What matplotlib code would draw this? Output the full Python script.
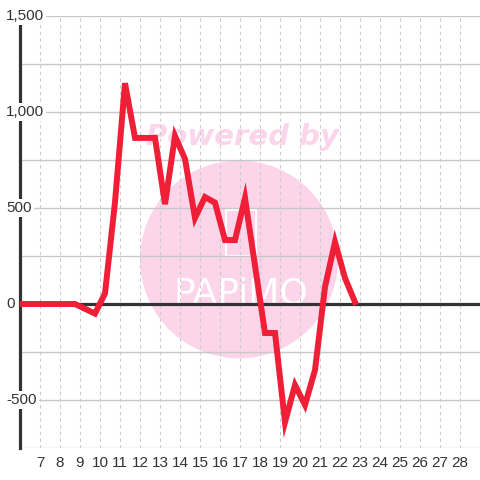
import matplotlib
matplotlib.use('Agg')
import matplotlib.pyplot as plt
import matplotlib.patches as patches

# values (x in half steps, offset .25)
xs = [5.75, 6.25, 6.75, 7.25, 7.75, 8.25, 8.75, 9.75, 10.25, 10.75, 11.25,
      11.75, 12.25, 12.75, 13.25, 13.75, 14.25, 14.75, 15.25, 15.75, 16.25,
      16.75, 17.25, 17.75, 18.25, 18.75, 19.25, 19.75, 20.25, 20.75, 21.25,
      21.75, 22.25, 22.75]
ys = [0, 0, 0, 0, 0, 0, 0, -50, 55, 530, 1150,
      865, 865, 865, 520, 875, 755, 448, 557, 528, 333,
      333, 552, 200, -151, -151, -615, -422, -526, -344, 89,
      323, 135, 10]

x_ticks = list(range(7, 29))
y_grid = [-750, -500, -250, 0, 250, 500, 750, 1000, 1250, 1500]
y_labels = [-500, 0, 500, 1000, 1500]

red = '#ee1f36'
dark = '#333333'
grey = '#c8c8c8'
pink = '#fcd5ea'

fig = plt.figure(figsize=(4.8, 4.8), dpi=100)
ax = fig.add_axes([20/480, 32/480, 460/480, 432/480])
ax.set_xlim(6, 29)
ax.set_ylim(-750, 1500)
for s in ax.spines.values():
    s.set_visible(False)
ax.set_yticks([])
ax.set_xticks(x_ticks)
ax.set_xticklabels([str(t) for t in x_ticks], fontsize=11,
                   family='Liberation Sans', color=dark)
ax.tick_params(axis='x', length=0, pad=6)

# watermark
ax.add_patch(patches.Ellipse((16.95, 232), 9.9, 1031, color=pink, zorder=0.5, lw=0))
ax.text(17.1, 828, 'Powered by', ha='center', va='baseline', fontsize=21,
        fontweight='bold', style='italic', color=pink, zorder=0.6)
ax.text(17.05, 5, 'PAPiMO', ha='center', va='baseline', fontsize=26,
        color='white', zorder=0.6, family='DejaVu Sans')
ax.add_patch(patches.FancyBboxPatch((16.3, 250), 1.5, 240,
             boxstyle='round,pad=0,rounding_size=0.3', fill=False,
             edgecolor='white', lw=1.5, zorder=0.6))

# grid
for g in y_grid:
    ax.axhline(g, color=grey, lw=1, zorder=1)
for t in x_ticks:
    ax.axvline(t, color='#cccccc', lw=0.8, ls=(0, (3, 3)), zorder=1)

ax.axhline(0, color=dark, lw=2.3, zorder=2)
ax.axvline(6, color=dark, lw=2.3, zorder=2, clip_on=False)

ax.plot(xs, ys, color=red, lw=4.3, solid_joinstyle='miter', zorder=3)

tr = ax.get_yaxis_transform()
for v in y_labels:
    ax.text(-14/460, v, f'{v:,}', transform=tr, ha='left', va='center',
            fontsize=11, family='Liberation Sans', color=dark, clip_on=False,
            zorder=5, bbox=dict(facecolor='white', edgecolor='none', pad=1.5))

fig.savefig('out.png', dpi=100)
